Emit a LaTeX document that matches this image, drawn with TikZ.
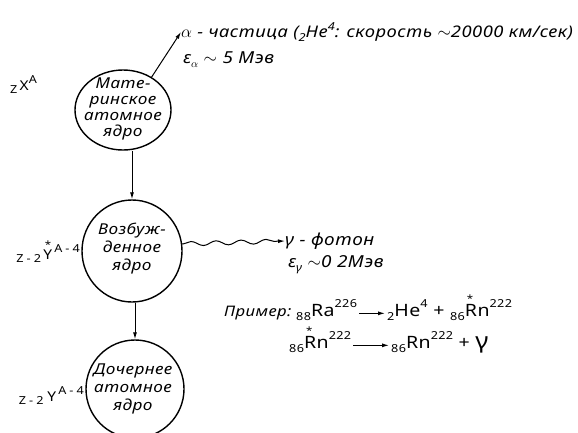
\documentclass[tikz,border=0pt]{standalone}
\usepackage{fontspec}
\setmainfont{Noto Sans}[FakeStretch=1.15,LetterSpace=3]
\usetikzlibrary{shapes.geometric,arrows.meta,decorations.pathmorphing}
\newcommand\lo[1]{\raisebox{-0.45ex}{\fontsize{11}{11}\selectfont #1}}
\newcommand\hi[1]{\raisebox{0.9ex}{\fontsize{11}{11}\selectfont #1}}
\newcommand\withstar[1]{\makebox[0pt][l]{\hspace{0.12em}\raisebox{0.8em}{\fontsize{10}{10}\selectfont *}}#1}
\begin{document}
\begin{tikzpicture}[x=1pt,y=-1pt,
  >={Latex[length=7pt,width=4pt]},
  circ/.style={ellipse,draw,line width=1.4pt,inner sep=0pt},
  ctext/.style={align=center,inner sep=0pt,font=\itshape\fontsize{15}{17}\selectfont},
  lbl/.style={inner sep=0pt,font=\itshape\fontsize{16.5}{18}\selectfont},
  sym/.style={inner sep=0pt,font=\fontsize{17}{19}\selectfont},
  lsym/.style={inner sep=0pt,font=\fontsize{13.5}{15}\selectfont},
  conn/.style={->,line width=1pt}]
\clip (0,0) rectangle (578,432);
% circles
\node[circ,minimum width=96pt,minimum height=80pt] (c1) at (123,110) {};
\node[circ,minimum width=100pt,minimum height=102pt] (c2) at (132,251) {};
\node[circ,minimum width=98pt,minimum height=98pt] (c3) at (135,389) {};
\node[ctext,font=\itshape\fontsize{15}{16}\selectfont] (t1) at (123,109) {Мате-\\ринское\\атомное\\ядро};
\node[ctext,font=\itshape\fontsize{15}{18}\selectfont] (t2) at (132,249) {Возбуж-\\денное\\ядро};
\node[ctext,font=\itshape\fontsize{15}{18}\selectfont] (t3) at (133,389) {Дочернее\\атомное\\ядро};
% left symbols
\node[lsym,anchor=base west] (s1) at (10,90) {\lo{Z}\,X\hi{A}};
\node[lsym,anchor=base east] (s2) at (80,259) {\lo{Z\;-\;2}\,\withstar{Y}\,\hi{A\;-\;4}};
\node[lsym,anchor=base east] (s3) at (84,401) {\lo{Z\;-\;2}\;Y\,\hi{A\;-\;4}};
% alpha
\node[lbl,anchor=west,font=\itshape\fontsize{16}{18}\selectfont] (a1) at (181,32) {$\alpha$ - частица (\lo{2}He\hi{4}: скорость $\sim$20000 км/сек)};
\node[lbl,anchor=west] (a2) at (183,60) {ε\lo{$\alpha$} $\sim$ 5 Мэв};
% gamma
\node[lbl,anchor=west] (g1) at (285,241) {γ - фотон};
\node[lbl,anchor=west] (g2) at (288,265) {ε\lo{γ} $\sim$0 2Мэв};
% example
\node[lbl,anchor=base west,font=\itshape\fontsize{14.5}{17}\selectfont] (ex) at (224,316) {Пример:};
\node[sym,anchor=base west] (r1a) at (296,316) {\lo{88}Ra\hi{226}};
\node[sym,anchor=base west] (r1b) at (387,316) {\lo{2}He\hi{4} + \lo{86}\withstar{R}n\hi{222}};
\node[sym,anchor=base west] (r2a) at (289,348) {\lo{86}\withstar{R}n\hi{222}};
\node[sym,anchor=base west] (r2b) at (391,348) {\lo{86}Rn\hi{222} + {\fontsize{22}{22}\selectfont\bfseries γ}};
% connectors
\draw[conn] (c1.49) -- (a1.west);
\draw[conn] (c1.south -| c2.north) -- (c2.north);
\draw[conn] (c2.south -| c3.north) -- (c3.north);
\draw[conn,decorate,decoration={snake,amplitude=2.2pt,segment length=25pt,pre length=1pt,post length=7pt}] (c2.8) -- (g1.west);
\draw[conn,shorten <=2pt,shorten >=2pt] (r1a.mid east) -- (r1b.mid west);
\draw[conn,shorten <=2pt,shorten >=2pt] (r2a.mid east) -- (r2b.mid west);
\end{tikzpicture}
\end{document}
